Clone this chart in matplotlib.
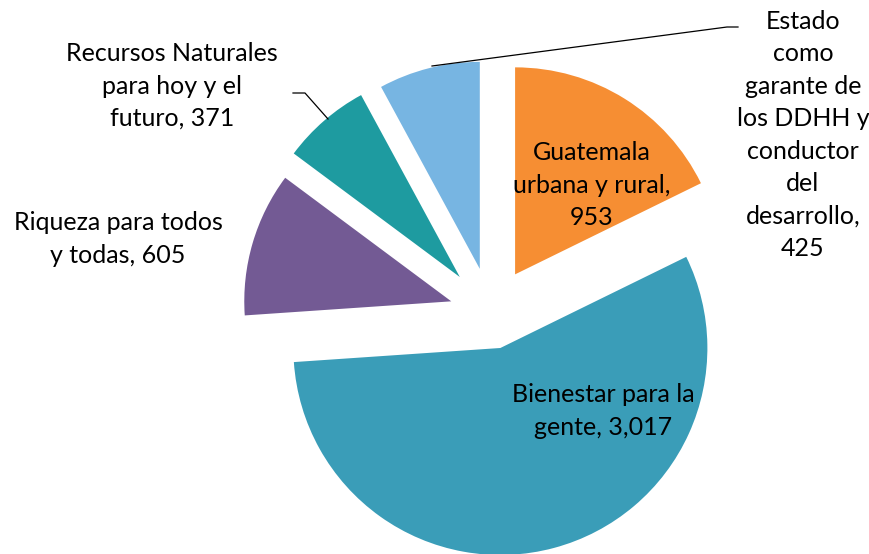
import numpy as np
import matplotlib.pyplot as plt

plt.rcParams['font.family'] = ['Lato', 'DejaVu Sans']

categorias = ['Guatemala urbana y rural', 'Bienestar para la gente',
              'Riqueza para todos y todas', 'Recursos Naturales para hoy y el futuro',
              'Estado como garante de los DDHH y conductor del desarrollo']
valores = [953, 3017, 605, 371, 425]
colores = ['#F68E33', '#3A9DB8', '#735A94', '#1E9BA0', '#77B5E2']
separacion = [0.22, 0.175, 0.2, 0.23, 0.22]

W, H = 870, 554
cx, cy, r = 491, 313, 207   # centro y radio del pastel en pixeles

fig = plt.figure(figsize=(W / 100, H / 100), dpi=100)
ax = fig.add_axes([0, 0, 1, 1])
ax.pie(valores, colors=colores, startangle=90, counterclock=False,
       explode=separacion, radius=1, wedgeprops=dict(linewidth=0))
ax.set_xlim(-cx / r, (W - cx) / r)
ax.set_ylim(-(H - cy) / r, cy / r)
ax.set_aspect('equal')
ax.axis('off')


def px(x, y):
    return (x - cx) / r, (cy - y) / r


etiquetas = [
    ('Guatemala\nurbana y rural,\n953', (592, 185)),
    ('Bienestar para la\ngente, 3,017', (603, 411)),
    ('Riqueza para todos\ny todas, 605', (118, 239)),
    ('Recursos Naturales\npara hoy y el\nfuturo, 371', (172, 86)),
    ('Estado\ncomo\ngarante de\nlos DDHH y\nconductor\ndel\ndesarrollo,\n425', (803, 135)),
]
for texto, (x, y) in etiquetas:
    ax.text(*px(x, y), texto, ha='center', va='center', fontsize=18,
            linespacing=1.5, color='black')

# lineas guia
for pts in [[(293, 93), (305, 93), (328, 119)],
            [(432, 66), (727, 27), (738, 27)]]:
    xs, ys = zip(*[px(x, y) for x, y in pts])
    ax.plot(xs, ys, color='black', lw=0.9)

fig.savefig('out.png', dpi=100)
